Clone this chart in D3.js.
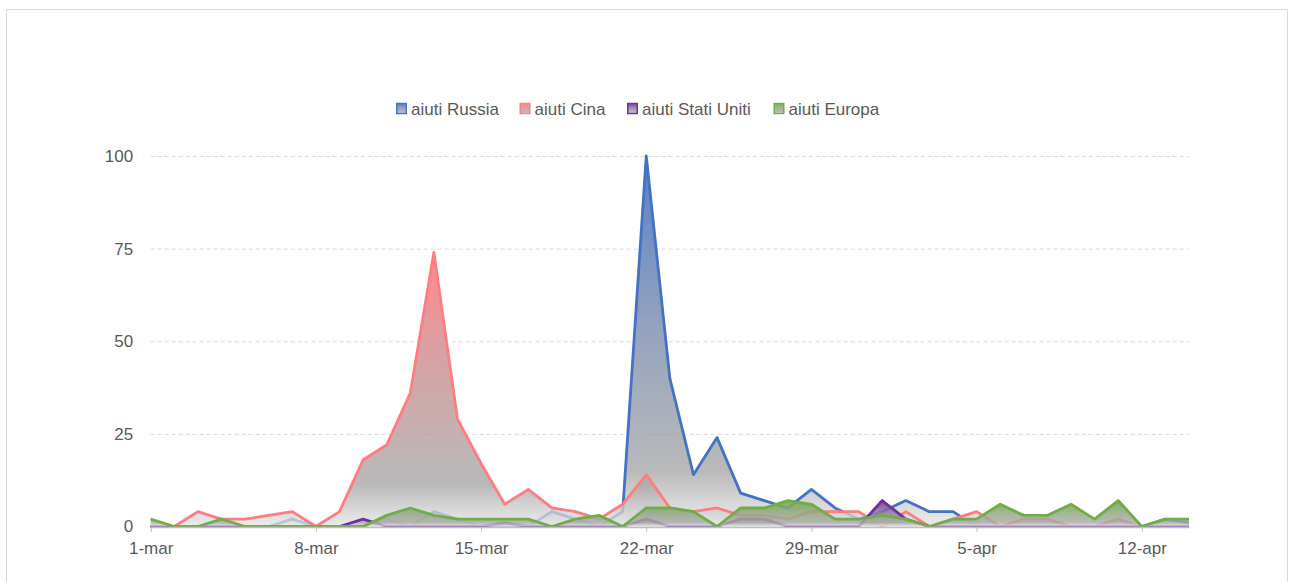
<!DOCTYPE html>
<html>
<head>
<meta charset="utf-8">
<script src="https://cdn.jsdelivr.net/npm/d3@7"></script>
<style>
  body { margin: 0; background: #fff; }
  text { font-family: "Liberation Sans", Arial, sans-serif; }
</style>
</head>
<body>
<div id="chart"></div>
<script>
// categories (one per day, 1 mar - 14 apr)
const days = [
  "2020-03-01","2020-03-02","2020-03-03","2020-03-04","2020-03-05","2020-03-06","2020-03-07",
  "2020-03-08","2020-03-09","2020-03-10","2020-03-11","2020-03-12","2020-03-13","2020-03-14",
  "2020-03-15","2020-03-16","2020-03-17","2020-03-18","2020-03-19","2020-03-20","2020-03-21",
  "2020-03-22","2020-03-23","2020-03-24","2020-03-25","2020-03-26","2020-03-27","2020-03-28",
  "2020-03-29","2020-03-30","2020-03-31","2020-04-01","2020-04-02","2020-04-03","2020-04-04",
  "2020-04-05","2020-04-06","2020-04-07","2020-04-08","2020-04-09","2020-04-10","2020-04-11",
  "2020-04-12","2020-04-13","2020-04-14"
];

const russia = [0,0,0,0,0,0,2,0,0,0,2,0,4,2,0,0,0,4,2,0,4,100,40,14,24,9,7,5,10,5,2,4,7,4,4,0,0,0,0,0,0,0,0,2,1];
const cina   = [0,0,4,2,2,3,4,0,4,18,22,36,74,29,17,6,10,5,4,2,6,14,5,4,5,3,3,2,4,4,4,0,4,0,2,4,0,2,2,0,0,2,0,0,0];
const usa    = [0,0,0,0,0,0,0,0,0,2,0,0,0,0,0,1,0,0,0,0,0,2,0,0,0,2,2,0,0,0,0,7,2,0,0,0,0,0,0,0,0,0,0,0,0];
const europa = [2,0,0,2,0,0,0,0,0,0,3,5,3,2,2,2,2,0,2,3,0,5,5,4,0,5,5,7,6,2,2,3,2,0,2,2,6,3,3,6,2,7,0,2,2];

const seriesNames = ["aiuti Russia", "aiuti Cina", "aiuti Stati Uniti", "aiuti Europa"];
const seriesColors = ["#4472C4", "#FF7C80", "#7030A0", "#70AD47"];

const tickDays = ["2020-03-01","2020-03-08","2020-03-15","2020-03-22","2020-03-29","2020-04-05","2020-04-12"];
const tickLabels = ["1-mar","8-mar","15-mar","22-mar","29-mar","5-apr","12-apr"];
const yTicks = [0, 25, 50, 75, 100];

const W = 1289, H = 582;
const parse = d3.timeParse("%Y-%m-%d");
const dates = days.map(parse);

const svg = d3.select("#chart").append("svg")
  .attr("width", W).attr("height", H);

// chart border
svg.append("rect")
  .attr("x", 6.5).attr("y", 9.5)
  .attr("width", 1281).attr("height", 620)
  .attr("fill", "#fff").attr("stroke", "#d9d9d9");

const xScale = d3.scaleTime()
  .domain([dates[0], dates[dates.length - 1]])
  .range([150.7, 1189]);

const yScale = d3.scaleLinear()
  .domain([0, 100])
  .range([526.5, 156]);

// gradient: series colour at the top fading to grey, then lighter at the base
const defs = svg.append("defs");
seriesColors.forEach((c, i) => {
  const g = defs.append("linearGradient")
    .attr("id", "grad" + i)
    .attr("x1", 0).attr("y1", 0).attr("x2", 0).attr("y2", 1);
  g.append("stop").attr("offset", "0%").attr("stop-color", c).attr("stop-opacity", 0.9);
  g.append("stop").attr("offset", "45%").attr("stop-color", d3.interpolateRgb(c, "#a6a6a6")(0.6)).attr("stop-opacity", 0.85);
  g.append("stop").attr("offset", "85%").attr("stop-color", "#aaaaaa").attr("stop-opacity", 0.82);
  g.append("stop").attr("offset", "100%").attr("stop-color", "#e6e6e6").attr("stop-opacity", 0.75);
});

// y axis + dashed gridlines
const yAxis = svg.append("g")
  .attr("transform", `translate(${xScale.range()[0]},0)`)
  .call(d3.axisLeft(yScale).tickValues(yTicks).tickSize(-(xScale.range()[1] - xScale.range()[0])).tickPadding(17.5));
yAxis.select(".domain").remove();
yAxis.selectAll(".tick line")
  .attr("stroke", "#d9d9d9")
  .attr("stroke-dasharray", "4,3")
  .attr("opacity", d => d === 0 ? 0 : 1);
yAxis.selectAll(".tick text")
  .attr("fill", "#595959")
  .style("font-size", "17px");

// series
const seriesData = [russia, cina, usa, europa];

const area = d3.area()
  .x((d, i) => xScale(dates[i]))
  .y0(yScale(0))
  .y1(d => yScale(d));

const line = d3.line()
  .x((d, i) => xScale(dates[i]))
  .y(d => yScale(d));

seriesData.forEach((vals, i) => {
  svg.append("path")
    .datum(vals)
    .attr("d", area)
    .attr("fill", `url(#grad${i})`);
  svg.append("path")
    .datum(vals)
    .attr("d", line)
    .attr("fill", "none")
    .attr("stroke", seriesColors[i])
    .attr("stroke-width", 2.8)
    .attr("stroke-linejoin", "round");
});

// x axis
const xAxis = svg.append("g")
  .attr("transform", `translate(0,${yScale(0) + 0.5})`)
  .call(d3.axisBottom(xScale)
    .tickValues(tickDays.map(parse))
    .tickFormat((d, i) => tickLabels[i])
    .tickSize(5).tickSizeOuter(0).tickPadding(10));
xAxis.select(".domain").attr("stroke", "#bfbfbf").attr("stroke-width", 1.5);
xAxis.selectAll(".tick line").attr("stroke", "#bfbfbf");
xAxis.selectAll(".tick text")
  .attr("fill", "#595959")
  .style("font-size", "17px");

// legend
const legendX = [396, 519.5, 627, 773.5];
const legend = svg.append("g");
seriesNames.forEach((name, i) => {
  legend.append("rect")
    .attr("x", legendX[i] + 0.75).attr("y", 103.5)
    .attr("width", 9.5).attr("height", 10)
    .attr("fill", `url(#grad${i})`)
    .attr("stroke", seriesColors[i])
    .attr("stroke-width", 1.5);
  legend.append("text")
    .attr("x", legendX[i] + 15)
    .attr("y", 114.5)
    .attr("fill", "#595959")
    .style("font-size", "17px")
    .text(name);
});
</script>
</body>
</html>
